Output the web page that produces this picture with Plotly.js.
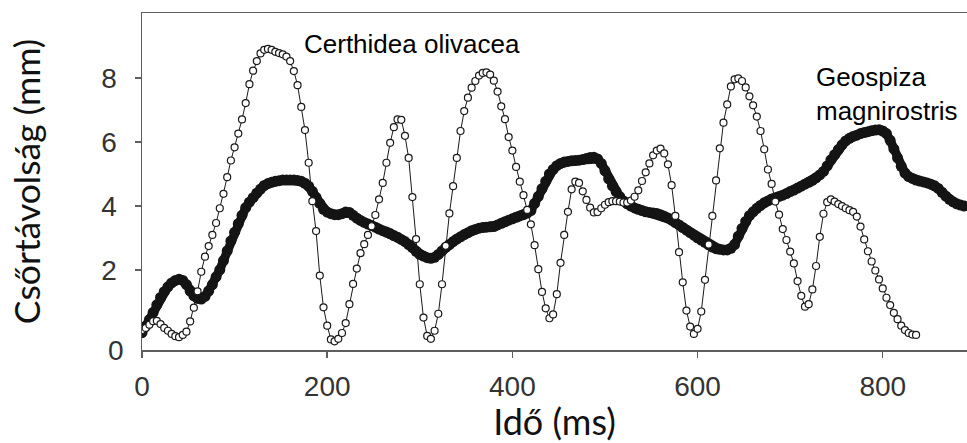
<!DOCTYPE html>
<html>
<head>
<meta charset="utf-8">
<script src="https://cdn.plot.ly/plotly-3.0.1.min.js"></script>
<style>
  html, body { margin: 0; padding: 0; background: #ffffff; }
  #chart { width: 967px; height: 443px; }
</style>
</head>
<body>
<div id="chart"></div>
<script>
// Sampling interval of both recordings (ms)
const SAMPLE_MS = 4;

// Certhidea olivacea – beak gape (mm), one value per sample
const certhidea = [
  0.13, 0.20, 0.30, 0.41, 0.42, 0.32, 0.20, 0.11, 0.01, -0.06,
  -0.09, -0.02, 0.08, 0.40, 0.83, 1.34, 1.95, 2.42, 2.75, 3.10,
  3.47, 3.93, 4.38, 4.90, 5.42, 5.83, 6.26, 6.70, 7.21, 7.80,
  8.22, 8.52, 8.76, 8.87, 8.90, 8.87, 8.81, 8.77, 8.73, 8.66,
  8.52, 8.21, 7.77, 7.09, 6.37, 5.35, 4.15, 3.22, 1.83, 0.84,
  0.27, -0.16, -0.22, -0.14, 0.04, 0.35, 0.94, 1.57, 2.05, 2.53,
  2.81, 3.10, 3.37, 3.72, 4.21, 4.72, 5.35, 5.97, 6.46, 6.70,
  6.69, 6.19, 5.50, 4.28, 2.97, 1.56, 0.52, -0.05, -0.14, 0.11,
  0.64, 1.56, 2.76, 3.77, 4.62, 5.50, 6.34, 6.96, 7.38, 7.69,
  7.90, 8.07, 8.15, 8.17, 8.10, 7.91, 7.57, 7.11, 6.71, 6.15,
  5.73, 5.22, 4.76, 4.34, 3.88, 3.43, 2.78, 2.03, 1.32, 0.81,
  0.50, 0.62, 1.25, 2.23, 3.10, 3.82, 4.52, 4.76, 4.72, 4.46,
  4.19, 3.95, 3.80, 3.81, 3.93, 4.04, 4.12, 4.15, 4.15, 4.14,
  4.11, 4.11, 4.17, 4.29, 4.49, 4.78, 5.05, 5.33, 5.58, 5.73,
  5.79, 5.64, 5.30, 4.65, 3.69, 2.56, 1.62, 0.74, 0.24, 0.01,
  0.17, 0.71, 1.70, 2.80, 3.69, 4.80, 5.80, 6.60, 7.17, 7.73,
  7.95, 7.98, 7.90, 7.70, 7.42, 7.14, 6.79, 6.34, 5.77, 5.14,
  4.69, 4.14, 3.73, 3.28, 2.94, 2.58, 2.21, 1.66, 1.20, 0.86,
  0.94, 1.40, 2.13, 3.04, 3.76, 4.12, 4.21, 4.14, 4.06, 4.00,
  3.93, 3.87, 3.82, 3.67, 3.36, 2.96, 2.59, 2.27, 1.99, 1.71,
  1.43, 1.14, 0.91, 0.67, 0.47, 0.27, 0.13, 0.04, -0.01, -0.02
];

// Geospiza magnirostris – beak gape (mm), one value per sample
const geospiza = [
  0.05, 0.25, 0.46, 0.68, 0.92, 1.15, 1.33, 1.48, 1.60, 1.68,
  1.72, 1.68, 1.55, 1.35, 1.20, 1.12, 1.10, 1.18, 1.35, 1.55,
  1.79, 2.01, 2.30, 2.60, 2.91, 3.18, 3.45, 3.71, 3.95, 4.12,
  4.26, 4.40, 4.53, 4.64, 4.70, 4.74, 4.77, 4.79, 4.81, 4.81,
  4.81, 4.81, 4.80, 4.77, 4.71, 4.62, 4.46, 4.27, 4.08, 3.90,
  3.81, 3.76, 3.73, 3.73, 3.76, 3.81, 3.80, 3.71, 3.62, 3.55,
  3.49, 3.44, 3.39, 3.34, 3.28, 3.23, 3.19, 3.14, 3.08, 3.03,
  2.96, 2.89, 2.80, 2.70, 2.59, 2.49, 2.44, 2.39, 2.37, 2.40,
  2.49, 2.60, 2.71, 2.80, 2.89, 2.97, 3.04, 3.11, 3.17, 3.23,
  3.27, 3.31, 3.33, 3.34, 3.35, 3.36, 3.41, 3.46, 3.51, 3.56,
  3.60, 3.65, 3.69, 3.73, 3.78, 3.86, 4.08, 4.30, 4.54, 4.77,
  5.00, 5.14, 5.26, 5.33, 5.37, 5.39, 5.41, 5.42, 5.43, 5.45,
  5.48, 5.51, 5.52, 5.47, 5.33, 5.10, 4.85, 4.63, 4.45, 4.29,
  4.16, 4.07, 4.00, 3.94, 3.90, 3.86, 3.82, 3.80, 3.78, 3.77,
  3.73, 3.68, 3.63, 3.56, 3.48, 3.41, 3.33, 3.25, 3.17, 3.09,
  3.01, 2.94, 2.87, 2.79, 2.72, 2.67, 2.65, 2.63, 2.63, 2.68,
  2.80, 3.06, 3.30, 3.52, 3.70, 3.82, 3.93, 4.02, 4.10, 4.16,
  4.22, 4.26, 4.30, 4.34, 4.39, 4.45, 4.50, 4.56, 4.62, 4.68,
  4.74, 4.80, 4.88, 4.97, 5.08, 5.25, 5.44, 5.60, 5.76, 5.91,
  6.03, 6.11, 6.17, 6.21, 6.26, 6.29, 6.32, 6.35, 6.37, 6.38,
  6.34, 6.26, 6.05, 5.78, 5.50, 5.24, 5.03, 4.92, 4.86, 4.81,
  4.78, 4.75, 4.72, 4.68, 4.63, 4.55, 4.43, 4.31, 4.21, 4.13,
  4.07, 4.03, 4.00
];

// Axis ticks and labels
const xTicks = [0, 200, 400, 600, 800];
const yTicks = [2, 4, 6, 8];
const xTitle = 'Idő (ms)';
const yTitle = 'Csőrtávolság (mm)';
const labelCerthidea = 'Certhidea olivacea';
const labelGeospiza = 'Geospiza<br>magnirostris';

const tCerthidea = certhidea.map((_, i) => i * SAMPLE_MS);
const tGeospiza = geospiza.map((_, i) => i * SAMPLE_MS);

const AXIS_COLOR = '#5e5e5e';
const TICK_FONT = { family: 'Liberation Sans, Arial, sans-serif', size: 28, color: '#333333' };

const traces = [
  {
    type: 'scatter',
    mode: 'lines+markers',
    name: 'Geospiza magnirostris',
    x: tGeospiza,
    y: geospiza,
    line: { color: '#141414', width: 9 },
    marker: { symbol: 'circle', size: 11, color: '#141414', line: { width: 0 } },
    hoverinfo: 'x+y'
  },
  {
    type: 'scatter',
    mode: 'lines+markers',
    name: 'Certhidea olivacea',
    x: tCerthidea,
    y: certhidea,
    line: { color: '#1a1a1a', width: 1 },
    marker: { symbol: 'circle', size: 7, color: '#ffffff', line: { color: '#1a1a1a', width: 1.2 } },
    hoverinfo: 'x+y'
  }
];

const layout = {
  width: 967,
  height: 443,
  margin: { l: 142, r: 0, t: 13, b: 93, pad: 0 },
  paper_bgcolor: '#ffffff',
  plot_bgcolor: '#ffffff',
  showlegend: false,
  xaxis: {
    range: [0, 891],
    tickvals: xTicks,
    ticktext: xTicks.map(String),
    showgrid: false,
    zeroline: false,
    showline: true,
    mirror: true,
    linecolor: AXIS_COLOR,
    linewidth: 1.5,
    ticks: 'outside',
    ticklen: 6,
    tickwidth: 1.5,
    tickcolor: AXIS_COLOR,
    tickfont: TICK_FONT,
    ticklabelstandoff: 5,
    automargin: false,
    title: { text: xTitle, font: { family: 'Lato, Open Sans, sans-serif', size: 36, color: '#111111' }, standoff: 12 }
  },
  yaxis: {
    range: [-0.49, 10.02],
    tickvals: yTicks,
    ticktext: yTicks.map(String),
    showgrid: false,
    zeroline: false,
    showline: true,
    mirror: false,
    linecolor: AXIS_COLOR,
    linewidth: 1.5,
    ticks: 'outside',
    ticklen: 6,
    tickwidth: 1.5,
    tickcolor: AXIS_COLOR,
    tickfont: TICK_FONT,
    ticklabelstandoff: 12,
    automargin: false,
    title: { text: yTitle, font: { family: 'Lato, Open Sans, sans-serif', size: 35.5, color: '#111111' }, standoff: 50 }
  },
  annotations: [
    {
      text: '0', xref: 'paper', yref: 'paper', x: 0, y: 0,
      xanchor: 'right', yanchor: 'middle', xshift: -16, showarrow: false,
      font: TICK_FONT
    },
    {
      text: labelCerthidea, xref: 'x', yref: 'y', x: 173, y: 9.06,
      xanchor: 'left', yanchor: 'middle', showarrow: false,
      font: { family: 'Liberation Sans, Arial, sans-serif', size: 26, color: '#000000' }
    },
    {
      text: labelGeospiza, xref: 'x', yref: 'y', x: 726, y: 7.5,
      xanchor: 'left', yanchor: 'middle', align: 'left', showarrow: false,
      font: { family: 'Liberation Sans, Arial, sans-serif', size: 26, color: '#000000' }
    }
  ]
};

Plotly.newPlot('chart', traces, layout, { staticPlot: true, displayModeBar: false });
</script>
</body>
</html>
